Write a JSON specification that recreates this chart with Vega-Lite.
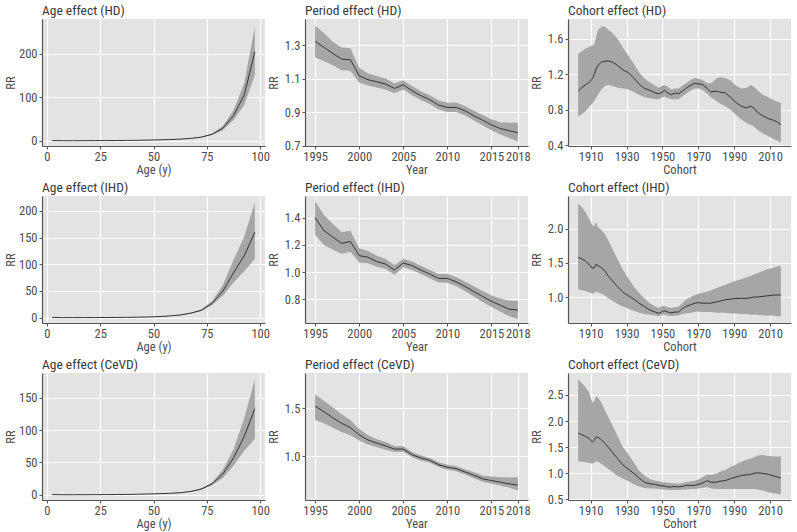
{
"$schema": "https://vega.github.io/schema/vega-lite/v6.json",
"padding": {"left": 4, "top": 3, "right": 4, "bottom": 2},
"background": "white",
"columns": 3,
"spacing": {"row": 50, "column": 40},
"bounds": "flush",
"data": {"values": [
{"p":"aHD","x":2.5,"rr":0.4,"lo":0.3,"hi":0.5},
{"p":"aHD","x":7.5,"rr":0.1,"lo":0.05,"hi":0.15},
{"p":"aHD","x":12.5,"rr":0.1,"lo":0.05,"hi":0.15},
{"p":"aHD","x":17.5,"rr":0.2,"lo":0.15,"hi":0.25},
{"p":"aHD","x":22.5,"rr":0.3,"lo":0.25,"hi":0.35},
{"p":"aHD","x":27.5,"rr":0.4,"lo":0.35,"hi":0.45},
{"p":"aHD","x":32.5,"rr":0.6,"lo":0.55,"hi":0.65},
{"p":"aHD","x":37.5,"rr":0.8,"lo":0.75,"hi":0.85},
{"p":"aHD","x":42.5,"rr":1.1,"lo":1.0,"hi":1.2},
{"p":"aHD","x":47.5,"rr":1.6,"lo":1.5,"hi":1.7},
{"p":"aHD","x":52.5,"rr":2.1,"lo":2.0,"hi":2.3},
{"p":"aHD","x":57.5,"rr":2.8,"lo":2.6,"hi":3.0},
{"p":"aHD","x":62.5,"rr":3.8,"lo":3.5,"hi":4.1},
{"p":"aHD","x":67.5,"rr":5.5,"lo":5.0,"hi":6.0},
{"p":"aHD","x":72.5,"rr":8.5,"lo":7.7,"hi":9.4},
{"p":"aHD","x":77.5,"rr":15,"lo":13.2,"hi":17},
{"p":"aHD","x":82.5,"rr":29,"lo":24.5,"hi":34},
{"p":"aHD","x":87.5,"rr":58,"lo":48,"hi":70},
{"p":"aHD","x":92.5,"rr":105,"lo":82,"hi":132},
{"p":"aHD","x":97.5,"rr":205,"lo":152,"hi":262},
{"p":"aIHD","x":2.5,"rr":0.2,"lo":0.1,"hi":0.3},
{"p":"aIHD","x":7.5,"rr":0.05,"lo":0.03,"hi":0.08},
{"p":"aIHD","x":12.5,"rr":0.05,"lo":0.03,"hi":0.08},
{"p":"aIHD","x":17.5,"rr":0.1,"lo":0.08,"hi":0.12},
{"p":"aIHD","x":22.5,"rr":0.15,"lo":0.12,"hi":0.18},
{"p":"aIHD","x":27.5,"rr":0.25,"lo":0.22,"hi":0.28},
{"p":"aIHD","x":32.5,"rr":0.4,"lo":0.36,"hi":0.44},
{"p":"aIHD","x":37.5,"rr":0.6,"lo":0.55,"hi":0.65},
{"p":"aIHD","x":42.5,"rr":0.9,"lo":0.85,"hi":0.95},
{"p":"aIHD","x":47.5,"rr":1.3,"lo":1.2,"hi":1.4},
{"p":"aIHD","x":52.5,"rr":2.0,"lo":1.8,"hi":2.2},
{"p":"aIHD","x":57.5,"rr":3.2,"lo":3.0,"hi":3.5},
{"p":"aIHD","x":62.5,"rr":5,"lo":4.6,"hi":5.5},
{"p":"aIHD","x":67.5,"rr":8.5,"lo":7.8,"hi":9.3},
{"p":"aIHD","x":72.5,"rr":14,"lo":12.5,"hi":15.7},
{"p":"aIHD","x":77.5,"rr":27,"lo":23.5,"hi":31},
{"p":"aIHD","x":82.5,"rr":50,"lo":41,"hi":61},
{"p":"aIHD","x":87.5,"rr":84,"lo":66,"hi":108},
{"p":"aIHD","x":92.5,"rr":116,"lo":87,"hi":152},
{"p":"aIHD","x":97.5,"rr":160,"lo":110,"hi":216},
{"p":"aCeVD","x":2.5,"rr":0.3,"lo":0.2,"hi":0.4},
{"p":"aCeVD","x":7.5,"rr":0.1,"lo":0.05,"hi":0.15},
{"p":"aCeVD","x":12.5,"rr":0.1,"lo":0.05,"hi":0.15},
{"p":"aCeVD","x":17.5,"rr":0.15,"lo":0.1,"hi":0.2},
{"p":"aCeVD","x":22.5,"rr":0.2,"lo":0.15,"hi":0.25},
{"p":"aCeVD","x":27.5,"rr":0.3,"lo":0.25,"hi":0.35},
{"p":"aCeVD","x":32.5,"rr":0.4,"lo":0.35,"hi":0.45},
{"p":"aCeVD","x":37.5,"rr":0.6,"lo":0.55,"hi":0.65},
{"p":"aCeVD","x":42.5,"rr":0.9,"lo":0.8,"hi":1.0},
{"p":"aCeVD","x":47.5,"rr":1.3,"lo":1.2,"hi":1.4},
{"p":"aCeVD","x":52.5,"rr":1.7,"lo":1.6,"hi":1.9},
{"p":"aCeVD","x":57.5,"rr":2.3,"lo":2.1,"hi":2.5},
{"p":"aCeVD","x":62.5,"rr":3.2,"lo":2.9,"hi":3.5},
{"p":"aCeVD","x":67.5,"rr":5.2,"lo":4.7,"hi":5.7},
{"p":"aCeVD","x":72.5,"rr":9,"lo":8,"hi":10},
{"p":"aCeVD","x":77.5,"rr":17,"lo":15,"hi":19.5},
{"p":"aCeVD","x":82.5,"rr":32,"lo":26,"hi":39},
{"p":"aCeVD","x":87.5,"rr":57,"lo":45,"hi":70},
{"p":"aCeVD","x":92.5,"rr":90,"lo":68,"hi":118},
{"p":"aCeVD","x":97.5,"rr":133,"lo":86,"hi":178},
{"p":"pHD","x":1995,"rr":1.322,"lo":1.226,"hi":1.415},
{"p":"pHD","x":1996,"rr":1.286,"lo":1.205,"hi":1.37},
{"p":"pHD","x":1997,"rr":1.25,"lo":1.18,"hi":1.32},
{"p":"pHD","x":1998,"rr":1.216,"lo":1.15,"hi":1.285},
{"p":"pHD","x":1999,"rr":1.212,"lo":1.147,"hi":1.28},
{"p":"pHD","x":2000,"rr":1.117,"lo":1.075,"hi":1.165},
{"p":"pHD","x":2001,"rr":1.093,"lo":1.058,"hi":1.13},
{"p":"pHD","x":2002,"rr":1.081,"lo":1.047,"hi":1.115},
{"p":"pHD","x":2003,"rr":1.067,"lo":1.035,"hi":1.1},
{"p":"pHD","x":2004,"rr":1.041,"lo":1.012,"hi":1.07},
{"p":"pHD","x":2005,"rr":1.063,"lo":1.035,"hi":1.09},
{"p":"pHD","x":2006,"rr":1.027,"lo":1.0,"hi":1.055},
{"p":"pHD","x":2007,"rr":0.998,"lo":0.972,"hi":1.025},
{"p":"pHD","x":2008,"rr":0.974,"lo":0.948,"hi":1.0},
{"p":"pHD","x":2009,"rr":0.942,"lo":0.915,"hi":0.97},
{"p":"pHD","x":2010,"rr":0.928,"lo":0.9,"hi":0.956},
{"p":"pHD","x":2011,"rr":0.928,"lo":0.9,"hi":0.957},
{"p":"pHD","x":2012,"rr":0.908,"lo":0.88,"hi":0.937},
{"p":"pHD","x":2013,"rr":0.878,"lo":0.85,"hi":0.908},
{"p":"pHD","x":2014,"rr":0.852,"lo":0.822,"hi":0.883},
{"p":"pHD","x":2015,"rr":0.824,"lo":0.792,"hi":0.858},
{"p":"pHD","x":2016,"rr":0.802,"lo":0.766,"hi":0.84},
{"p":"pHD","x":2017,"rr":0.789,"lo":0.745,"hi":0.836},
{"p":"pHD","x":2018,"rr":0.777,"lo":0.725,"hi":0.838},
{"p":"pIHD","x":1995,"rr":1.4,"lo":1.274,"hi":1.521},
{"p":"pIHD","x":1996,"rr":1.306,"lo":1.2,"hi":1.42},
{"p":"pIHD","x":1997,"rr":1.257,"lo":1.165,"hi":1.355},
{"p":"pIHD","x":1998,"rr":1.212,"lo":1.135,"hi":1.295},
{"p":"pIHD","x":1999,"rr":1.225,"lo":1.15,"hi":1.305},
{"p":"pIHD","x":2000,"rr":1.121,"lo":1.07,"hi":1.175},
{"p":"pIHD","x":2001,"rr":1.109,"lo":1.065,"hi":1.155},
{"p":"pIHD","x":2002,"rr":1.077,"lo":1.04,"hi":1.12},
{"p":"pIHD","x":2003,"rr":1.059,"lo":1.022,"hi":1.097},
{"p":"pIHD","x":2004,"rr":1.015,"lo":0.98,"hi":1.05},
{"p":"pIHD","x":2005,"rr":1.067,"lo":1.035,"hi":1.096},
{"p":"pIHD","x":2006,"rr":1.047,"lo":1.015,"hi":1.078},
{"p":"pIHD","x":2007,"rr":1.015,"lo":0.985,"hi":1.046},
{"p":"pIHD","x":2008,"rr":0.985,"lo":0.955,"hi":1.016},
{"p":"pIHD","x":2009,"rr":0.953,"lo":0.923,"hi":0.985},
{"p":"pIHD","x":2010,"rr":0.953,"lo":0.922,"hi":0.985},
{"p":"pIHD","x":2011,"rr":0.928,"lo":0.895,"hi":0.962},
{"p":"pIHD","x":2012,"rr":0.894,"lo":0.86,"hi":0.93},
{"p":"pIHD","x":2013,"rr":0.857,"lo":0.82,"hi":0.895},
{"p":"pIHD","x":2014,"rr":0.82,"lo":0.78,"hi":0.86},
{"p":"pIHD","x":2015,"rr":0.785,"lo":0.742,"hi":0.828},
{"p":"pIHD","x":2016,"rr":0.756,"lo":0.71,"hi":0.805},
{"p":"pIHD","x":2017,"rr":0.726,"lo":0.675,"hi":0.79},
{"p":"pIHD","x":2018,"rr":0.721,"lo":0.657,"hi":0.788},
{"p":"pCeVD","x":1995,"rr":1.524,"lo":1.379,"hi":1.645},
{"p":"pCeVD","x":1996,"rr":1.466,"lo":1.345,"hi":1.58},
{"p":"pCeVD","x":1997,"rr":1.403,"lo":1.3,"hi":1.51},
{"p":"pCeVD","x":1998,"rr":1.345,"lo":1.255,"hi":1.44},
{"p":"pCeVD","x":1999,"rr":1.3,"lo":1.22,"hi":1.38},
{"p":"pCeVD","x":2000,"rr":1.224,"lo":1.165,"hi":1.285},
{"p":"pCeVD","x":2001,"rr":1.172,"lo":1.125,"hi":1.22},
{"p":"pCeVD","x":2002,"rr":1.138,"lo":1.095,"hi":1.18},
{"p":"pCeVD","x":2003,"rr":1.11,"lo":1.07,"hi":1.15},
{"p":"pCeVD","x":2004,"rr":1.076,"lo":1.045,"hi":1.108},
{"p":"pCeVD","x":2005,"rr":1.076,"lo":1.048,"hi":1.105},
{"p":"pCeVD","x":2006,"rr":1.017,"lo":0.99,"hi":1.045},
{"p":"pCeVD","x":2007,"rr":0.983,"lo":0.957,"hi":1.01},
{"p":"pCeVD","x":2008,"rr":0.959,"lo":0.933,"hi":0.986},
{"p":"pCeVD","x":2009,"rr":0.914,"lo":0.888,"hi":0.94},
{"p":"pCeVD","x":2010,"rr":0.886,"lo":0.86,"hi":0.913},
{"p":"pCeVD","x":2011,"rr":0.872,"lo":0.845,"hi":0.9},
{"p":"pCeVD","x":2012,"rr":0.838,"lo":0.81,"hi":0.867},
{"p":"pCeVD","x":2013,"rr":0.803,"lo":0.773,"hi":0.835},
{"p":"pCeVD","x":2014,"rr":0.766,"lo":0.735,"hi":0.8},
{"p":"pCeVD","x":2015,"rr":0.748,"lo":0.715,"hi":0.79},
{"p":"pCeVD","x":2016,"rr":0.731,"lo":0.695,"hi":0.783},
{"p":"pCeVD","x":2017,"rr":0.714,"lo":0.675,"hi":0.78},
{"p":"pCeVD","x":2018,"rr":0.7,"lo":0.645,"hi":0.783},
{"p":"cHD","x":1903,"rr":1.01,"lo":0.72,"hi":1.43},
{"p":"cHD","x":1905,"rr":1.05,"lo":0.75,"hi":1.46},
{"p":"cHD","x":1907,"rr":1.08,"lo":0.78,"hi":1.49},
{"p":"cHD","x":1909,"rr":1.11,"lo":0.83,"hi":1.51},
{"p":"cHD","x":1911,"rr":1.15,"lo":0.87,"hi":1.53},
{"p":"cHD","x":1912,"rr":1.2,"lo":0.9,"hi":1.54},
{"p":"cHD","x":1913,"rr":1.26,"lo":0.93,"hi":1.62},
{"p":"cHD","x":1914,"rr":1.3,"lo":0.97,"hi":1.7},
{"p":"cHD","x":1916,"rr":1.34,"lo":1.03,"hi":1.74},
{"p":"cHD","x":1918,"rr":1.35,"lo":1.07,"hi":1.74},
{"p":"cHD","x":1920,"rr":1.35,"lo":1.08,"hi":1.7},
{"p":"cHD","x":1922,"rr":1.34,"lo":1.07,"hi":1.67},
{"p":"cHD","x":1925,"rr":1.3,"lo":1.05,"hi":1.6},
{"p":"cHD","x":1928,"rr":1.25,"lo":1.04,"hi":1.5},
{"p":"cHD","x":1931,"rr":1.22,"lo":1.03,"hi":1.41},
{"p":"cHD","x":1934,"rr":1.16,"lo":1.0,"hi":1.32},
{"p":"cHD","x":1937,"rr":1.09,"lo":0.97,"hi":1.22},
{"p":"cHD","x":1940,"rr":1.04,"lo":0.94,"hi":1.15},
{"p":"cHD","x":1943,"rr":1.02,"lo":0.93,"hi":1.11},
{"p":"cHD","x":1946,"rr":0.99,"lo":0.92,"hi":1.07},
{"p":"cHD","x":1948,"rr":0.98,"lo":0.92,"hi":1.05},
{"p":"cHD","x":1950,"rr":1.0,"lo":0.94,"hi":1.07},
{"p":"cHD","x":1951,"rr":1.02,"lo":0.95,"hi":1.08},
{"p":"cHD","x":1953,"rr":0.99,"lo":0.93,"hi":1.06},
{"p":"cHD","x":1955,"rr":0.97,"lo":0.92,"hi":1.03},
{"p":"cHD","x":1957,"rr":0.99,"lo":0.92,"hi":1.04},
{"p":"cHD","x":1959,"rr":0.98,"lo":0.92,"hi":1.04},
{"p":"cHD","x":1961,"rr":1.01,"lo":0.95,"hi":1.07},
{"p":"cHD","x":1963,"rr":1.04,"lo":0.98,"hi":1.1},
{"p":"cHD","x":1966,"rr":1.08,"lo":1.02,"hi":1.14},
{"p":"cHD","x":1968,"rr":1.1,"lo":1.04,"hi":1.16},
{"p":"cHD","x":1970,"rr":1.09,"lo":1.04,"hi":1.15},
{"p":"cHD","x":1972,"rr":1.09,"lo":1.03,"hi":1.14},
{"p":"cHD","x":1975,"rr":1.04,"lo":0.98,"hi":1.1},
{"p":"cHD","x":1977,"rr":1.0,"lo":0.94,"hi":1.1},
{"p":"cHD","x":1980,"rr":1.01,"lo":0.9,"hi":1.15},
{"p":"cHD","x":1982,"rr":1.0,"lo":0.87,"hi":1.17},
{"p":"cHD","x":1985,"rr":0.99,"lo":0.84,"hi":1.16},
{"p":"cHD","x":1988,"rr":0.94,"lo":0.8,"hi":1.13},
{"p":"cHD","x":1991,"rr":0.88,"lo":0.74,"hi":1.07},
{"p":"cHD","x":1994,"rr":0.84,"lo":0.69,"hi":1.04},
{"p":"cHD","x":1997,"rr":0.82,"lo":0.65,"hi":1.05},
{"p":"cHD","x":1999,"rr":0.84,"lo":0.63,"hi":1.08},
{"p":"cHD","x":2001,"rr":0.82,"lo":0.61,"hi":1.06},
{"p":"cHD","x":2003,"rr":0.77,"lo":0.57,"hi":1.02},
{"p":"cHD","x":2006,"rr":0.73,"lo":0.53,"hi":0.97},
{"p":"cHD","x":2009,"rr":0.7,"lo":0.5,"hi":0.94},
{"p":"cHD","x":2012,"rr":0.68,"lo":0.47,"hi":0.91},
{"p":"cHD","x":2014,"rr":0.66,"lo":0.45,"hi":0.89},
{"p":"cHD","x":2016,"rr":0.63,"lo":0.43,"hi":0.88},
{"p":"cIHD","x":1903,"rr":1.58,"lo":1.11,"hi":2.37},
{"p":"cIHD","x":1905,"rr":1.56,"lo":1.1,"hi":2.32},
{"p":"cIHD","x":1907,"rr":1.53,"lo":1.09,"hi":2.25},
{"p":"cIHD","x":1909,"rr":1.48,"lo":1.07,"hi":2.15},
{"p":"cIHD","x":1911,"rr":1.42,"lo":1.05,"hi":2.05},
{"p":"cIHD","x":1912,"rr":1.43,"lo":1.06,"hi":2.04},
{"p":"cIHD","x":1913,"rr":1.48,"lo":1.08,"hi":2.1},
{"p":"cIHD","x":1914,"rr":1.46,"lo":1.07,"hi":2.03},
{"p":"cIHD","x":1916,"rr":1.43,"lo":1.05,"hi":1.98},
{"p":"cIHD","x":1918,"rr":1.38,"lo":1.02,"hi":1.92},
{"p":"cIHD","x":1920,"rr":1.3,"lo":0.98,"hi":1.82},
{"p":"cIHD","x":1922,"rr":1.24,"lo":0.95,"hi":1.71},
{"p":"cIHD","x":1925,"rr":1.15,"lo":0.9,"hi":1.55},
{"p":"cIHD","x":1928,"rr":1.07,"lo":0.86,"hi":1.4},
{"p":"cIHD","x":1931,"rr":1.02,"lo":0.83,"hi":1.27},
{"p":"cIHD","x":1934,"rr":0.97,"lo":0.8,"hi":1.16},
{"p":"cIHD","x":1937,"rr":0.91,"lo":0.77,"hi":1.06},
{"p":"cIHD","x":1940,"rr":0.86,"lo":0.75,"hi":0.98},
{"p":"cIHD","x":1943,"rr":0.81,"lo":0.74,"hi":0.91},
{"p":"cIHD","x":1946,"rr":0.78,"lo":0.73,"hi":0.86},
{"p":"cIHD","x":1948,"rr":0.76,"lo":0.72,"hi":0.84},
{"p":"cIHD","x":1950,"rr":0.79,"lo":0.74,"hi":0.87},
{"p":"cIHD","x":1951,"rr":0.8,"lo":0.74,"hi":0.87},
{"p":"cIHD","x":1953,"rr":0.78,"lo":0.73,"hi":0.85},
{"p":"cIHD","x":1955,"rr":0.77,"lo":0.72,"hi":0.84},
{"p":"cIHD","x":1957,"rr":0.78,"lo":0.73,"hi":0.85},
{"p":"cIHD","x":1959,"rr":0.78,"lo":0.73,"hi":0.86},
{"p":"cIHD","x":1961,"rr":0.83,"lo":0.75,"hi":0.91},
{"p":"cIHD","x":1963,"rr":0.86,"lo":0.76,"hi":0.96},
{"p":"cIHD","x":1966,"rr":0.89,"lo":0.77,"hi":1.0},
{"p":"cIHD","x":1968,"rr":0.91,"lo":0.78,"hi":1.03},
{"p":"cIHD","x":1970,"rr":0.92,"lo":0.79,"hi":1.05},
{"p":"cIHD","x":1972,"rr":0.91,"lo":0.78,"hi":1.06},
{"p":"cIHD","x":1975,"rr":0.91,"lo":0.78,"hi":1.08},
{"p":"cIHD","x":1977,"rr":0.91,"lo":0.78,"hi":1.1},
{"p":"cIHD","x":1980,"rr":0.93,"lo":0.77,"hi":1.13},
{"p":"cIHD","x":1982,"rr":0.94,"lo":0.77,"hi":1.15},
{"p":"cIHD","x":1985,"rr":0.96,"lo":0.77,"hi":1.18},
{"p":"cIHD","x":1988,"rr":0.97,"lo":0.76,"hi":1.21},
{"p":"cIHD","x":1991,"rr":0.98,"lo":0.76,"hi":1.24},
{"p":"cIHD","x":1994,"rr":0.98,"lo":0.75,"hi":1.26},
{"p":"cIHD","x":1997,"rr":0.98,"lo":0.75,"hi":1.29},
{"p":"cIHD","x":1999,"rr":0.99,"lo":0.74,"hi":1.31},
{"p":"cIHD","x":2001,"rr":1.0,"lo":0.74,"hi":1.33},
{"p":"cIHD","x":2003,"rr":1.0,"lo":0.74,"hi":1.35},
{"p":"cIHD","x":2006,"rr":1.01,"lo":0.73,"hi":1.38},
{"p":"cIHD","x":2009,"rr":1.02,"lo":0.73,"hi":1.41},
{"p":"cIHD","x":2012,"rr":1.03,"lo":0.73,"hi":1.43},
{"p":"cIHD","x":2014,"rr":1.03,"lo":0.72,"hi":1.45},
{"p":"cIHD","x":2016,"rr":1.03,"lo":0.72,"hi":1.46},
{"p":"cCeVD","x":1903,"rr":1.77,"lo":1.23,"hi":2.8},
{"p":"cCeVD","x":1905,"rr":1.74,"lo":1.22,"hi":2.73},
{"p":"cCeVD","x":1907,"rr":1.71,"lo":1.21,"hi":2.65},
{"p":"cCeVD","x":1909,"rr":1.67,"lo":1.2,"hi":2.55},
{"p":"cCeVD","x":1911,"rr":1.6,"lo":1.19,"hi":2.35},
{"p":"cCeVD","x":1912,"rr":1.63,"lo":1.2,"hi":2.38},
{"p":"cCeVD","x":1913,"rr":1.7,"lo":1.23,"hi":2.48},
{"p":"cCeVD","x":1914,"rr":1.69,"lo":1.22,"hi":2.45},
{"p":"cCeVD","x":1916,"rr":1.64,"lo":1.18,"hi":2.35},
{"p":"cCeVD","x":1918,"rr":1.57,"lo":1.13,"hi":2.2},
{"p":"cCeVD","x":1920,"rr":1.49,"lo":1.08,"hi":2.07},
{"p":"cCeVD","x":1922,"rr":1.41,"lo":1.03,"hi":1.93},
{"p":"cCeVD","x":1925,"rr":1.28,"lo":0.95,"hi":1.71},
{"p":"cCeVD","x":1928,"rr":1.16,"lo":0.9,"hi":1.5},
{"p":"cCeVD","x":1931,"rr":1.08,"lo":0.85,"hi":1.36},
{"p":"cCeVD","x":1934,"rr":1.0,"lo":0.79,"hi":1.21},
{"p":"cCeVD","x":1937,"rr":0.91,"lo":0.75,"hi":1.05},
{"p":"cCeVD","x":1940,"rr":0.83,"lo":0.72,"hi":0.96},
{"p":"cCeVD","x":1943,"rr":0.8,"lo":0.71,"hi":0.89},
{"p":"cCeVD","x":1946,"rr":0.79,"lo":0.71,"hi":0.86},
{"p":"cCeVD","x":1948,"rr":0.77,"lo":0.7,"hi":0.85},
{"p":"cCeVD","x":1950,"rr":0.76,"lo":0.69,"hi":0.83},
{"p":"cCeVD","x":1951,"rr":0.76,"lo":0.69,"hi":0.83},
{"p":"cCeVD","x":1953,"rr":0.74,"lo":0.68,"hi":0.82},
{"p":"cCeVD","x":1955,"rr":0.74,"lo":0.68,"hi":0.81},
{"p":"cCeVD","x":1957,"rr":0.75,"lo":0.68,"hi":0.81},
{"p":"cCeVD","x":1959,"rr":0.74,"lo":0.68,"hi":0.8},
{"p":"cCeVD","x":1961,"rr":0.75,"lo":0.69,"hi":0.81},
{"p":"cCeVD","x":1963,"rr":0.77,"lo":0.69,"hi":0.83},
{"p":"cCeVD","x":1966,"rr":0.77,"lo":0.7,"hi":0.85},
{"p":"cCeVD","x":1968,"rr":0.77,"lo":0.7,"hi":0.86},
{"p":"cCeVD","x":1970,"rr":0.79,"lo":0.71,"hi":0.88},
{"p":"cCeVD","x":1972,"rr":0.81,"lo":0.72,"hi":0.92},
{"p":"cCeVD","x":1975,"rr":0.86,"lo":0.74,"hi":0.98},
{"p":"cCeVD","x":1977,"rr":0.83,"lo":0.71,"hi":0.97},
{"p":"cCeVD","x":1980,"rr":0.83,"lo":0.7,"hi":0.99},
{"p":"cCeVD","x":1982,"rr":0.85,"lo":0.7,"hi":1.03},
{"p":"cCeVD","x":1985,"rr":0.86,"lo":0.7,"hi":1.07},
{"p":"cCeVD","x":1988,"rr":0.9,"lo":0.7,"hi":1.12},
{"p":"cCeVD","x":1991,"rr":0.93,"lo":0.7,"hi":1.17},
{"p":"cCeVD","x":1994,"rr":0.96,"lo":0.7,"hi":1.22},
{"p":"cCeVD","x":1997,"rr":0.97,"lo":0.7,"hi":1.26},
{"p":"cCeVD","x":1999,"rr":0.98,"lo":0.7,"hi":1.28},
{"p":"cCeVD","x":2001,"rr":1.0,"lo":0.7,"hi":1.31},
{"p":"cCeVD","x":2003,"rr":1.01,"lo":0.69,"hi":1.34},
{"p":"cCeVD","x":2006,"rr":1.0,"lo":0.67,"hi":1.35},
{"p":"cCeVD","x":2009,"rr":0.98,"lo":0.64,"hi":1.33},
{"p":"cCeVD","x":2012,"rr":0.95,"lo":0.62,"hi":1.32},
{"p":"cCeVD","x":2014,"rr":0.93,"lo":0.61,"hi":1.32},
{"p":"cCeVD","x":2016,"rr":0.91,"lo":0.6,"hi":1.32}
]},
"concat": [
{"title": {"text": "Age effect (HD)", "fontWeight": "normal"}, "width": 223, "height": 127,
 "transform": [{"filter": "datum.p === 'aHD'"}],
 "resolve": {"axis": {"x": "independent", "y": "independent"}},
 "layer": [
  {"mark": {"type": "area", "color": "#a6a6a6"},
   "encoding": {
    "x": {"field": "x", "type": "quantitative", "title": "Age (y)", "scale": {"domain": [-2.25, 102.25], "nice": false, "zero": false}, "axis": {"values": [0,25,50,75,100], "format": "d"}},
    "y": {"field": "lo", "type": "quantitative", "title": "RR", "scale": {"domain": [-12, 280], "nice": false, "zero": false}, "axis": {"values": [0,100,200], "format": "d"}},
    "y2": {"field": "hi"}}},
  {"mark": {"type": "line", "color": "#333333", "strokeWidth": 1},
   "encoding": {
    "x": {"field": "x", "type": "quantitative", "axis": {"orient": "bottom", "values": [12.5,37.5,62.5,87.5], "labels": false, "ticks": false, "domain": false, "title": null, "gridWidth": 0.5, "minExtent": 0, "maxExtent": 0}},
    "y": {"field": "rr", "type": "quantitative", "axis": {"orient": "left", "values": [50,150,250], "labels": false, "ticks": false, "domain": false, "title": null, "gridWidth": 0.5, "minExtent": 0, "maxExtent": 0}}}}
 ]},
{"title": {"text": "Period effect (HD)", "fontWeight": "normal"}, "width": 223, "height": 127,
 "transform": [{"filter": "datum.p === 'pHD'"}],
 "resolve": {"axis": {"x": "independent", "y": "independent"}},
 "layer": [
  {"mark": {"type": "area", "color": "#a6a6a6"},
   "encoding": {
    "x": {"field": "x", "type": "quantitative", "title": "Year", "scale": {"domain": [1993.85, 2019.15], "nice": false, "zero": false}, "axis": {"values": [1995,2000,2005,2010,2015,2018], "format": "d"}},
    "y": {"field": "lo", "type": "quantitative", "title": "RR", "scale": {"domain": [0.698, 1.455], "nice": false, "zero": false}, "axis": {"values": [0.7,0.9,1.1,1.3], "format": ".1f"}},
    "y2": {"field": "hi"}}},
  {"mark": {"type": "line", "color": "#333333", "strokeWidth": 1},
   "encoding": {
    "x": {"field": "x", "type": "quantitative", "axis": {"orient": "bottom", "values": [1997.5,2002.5,2007.5,2012.5,2016.5], "labels": false, "ticks": false, "domain": false, "title": null, "gridWidth": 0.5, "minExtent": 0, "maxExtent": 0}},
    "y": {"field": "rr", "type": "quantitative", "axis": {"orient": "left", "values": [0.8,1.0,1.2,1.4], "labels": false, "ticks": false, "domain": false, "title": null, "gridWidth": 0.5, "minExtent": 0, "maxExtent": 0}}}}
 ]},
{"title": {"text": "Cohort effect (HD)", "fontWeight": "normal"}, "width": 223, "height": 127,
 "transform": [{"filter": "datum.p === 'cHD'"}],
 "resolve": {"axis": {"x": "independent", "y": "independent"}},
 "layer": [
  {"mark": {"type": "area", "color": "#a6a6a6"},
   "encoding": {
    "x": {"field": "x", "type": "quantitative", "title": "Cohort", "scale": {"domain": [1897.35, 2021.65], "nice": false, "zero": false}, "axis": {"values": [1910,1930,1950,1970,1990,2010], "format": "d"}},
    "y": {"field": "lo", "type": "quantitative", "title": "RR", "scale": {"domain": [0.39, 1.826], "nice": false, "zero": false}, "axis": {"values": [0.4,0.8,1.2,1.6], "format": ".1f"}},
    "y2": {"field": "hi"}}},
  {"mark": {"type": "line", "color": "#333333", "strokeWidth": 1},
   "encoding": {
    "x": {"field": "x", "type": "quantitative", "axis": {"orient": "bottom", "values": [1900,1920,1940,1960,1980,2000,2020], "labels": false, "ticks": false, "domain": false, "title": null, "gridWidth": 0.5, "minExtent": 0, "maxExtent": 0}},
    "y": {"field": "rr", "type": "quantitative", "axis": {"orient": "left", "values": [0.6,1.0,1.4,1.8], "labels": false, "ticks": false, "domain": false, "title": null, "gridWidth": 0.5, "minExtent": 0, "maxExtent": 0}}}}
 ]},
{"title": {"text": "Age effect (IHD)", "fontWeight": "normal"}, "width": 223, "height": 127,
 "transform": [{"filter": "datum.p === 'aIHD'"}],
 "resolve": {"axis": {"x": "independent", "y": "independent"}},
 "layer": [
  {"mark": {"type": "area", "color": "#a6a6a6"},
   "encoding": {
    "x": {"field": "x", "type": "quantitative", "title": "Age (y)", "scale": {"domain": [-2.25, 102.25], "nice": false, "zero": false}, "axis": {"values": [0,25,50,75,100], "format": "d"}},
    "y": {"field": "lo", "type": "quantitative", "title": "RR", "scale": {"domain": [-10, 228], "nice": false, "zero": false}, "axis": {"values": [0,50,100,150,200], "format": "d"}},
    "y2": {"field": "hi"}}},
  {"mark": {"type": "line", "color": "#333333", "strokeWidth": 1},
   "encoding": {
    "x": {"field": "x", "type": "quantitative", "axis": {"orient": "bottom", "values": [12.5,37.5,62.5,87.5], "labels": false, "ticks": false, "domain": false, "title": null, "gridWidth": 0.5, "minExtent": 0, "maxExtent": 0}},
    "y": {"field": "rr", "type": "quantitative", "axis": {"orient": "left", "values": [25,75,125,175,225], "labels": false, "ticks": false, "domain": false, "title": null, "gridWidth": 0.5, "minExtent": 0, "maxExtent": 0}}}}
 ]},
{"title": {"text": "Period effect (IHD)", "fontWeight": "normal"}, "width": 223, "height": 127,
 "transform": [{"filter": "datum.p === 'pIHD'"}],
 "resolve": {"axis": {"x": "independent", "y": "independent"}},
 "layer": [
  {"mark": {"type": "area", "color": "#a6a6a6"},
   "encoding": {
    "x": {"field": "x", "type": "quantitative", "title": "Year", "scale": {"domain": [1993.85, 2019.15], "nice": false, "zero": false}, "axis": {"values": [1995,2000,2005,2010,2015,2018], "format": "d"}},
    "y": {"field": "lo", "type": "quantitative", "title": "RR", "scale": {"domain": [0.625, 1.56], "nice": false, "zero": false}, "axis": {"values": [0.8,1.0,1.2,1.4], "format": ".1f"}},
    "y2": {"field": "hi"}}},
  {"mark": {"type": "line", "color": "#333333", "strokeWidth": 1},
   "encoding": {
    "x": {"field": "x", "type": "quantitative", "axis": {"orient": "bottom", "values": [1997.5,2002.5,2007.5,2012.5,2016.5], "labels": false, "ticks": false, "domain": false, "title": null, "gridWidth": 0.5, "minExtent": 0, "maxExtent": 0}},
    "y": {"field": "rr", "type": "quantitative", "axis": {"orient": "left", "values": [0.7,0.9,1.1,1.3,1.5], "labels": false, "ticks": false, "domain": false, "title": null, "gridWidth": 0.5, "minExtent": 0, "maxExtent": 0}}}}
 ]},
{"title": {"text": "Cohort effect (IHD)", "fontWeight": "normal"}, "width": 223, "height": 127,
 "transform": [{"filter": "datum.p === 'cIHD'"}],
 "resolve": {"axis": {"x": "independent", "y": "independent"}},
 "layer": [
  {"mark": {"type": "area", "color": "#a6a6a6"},
   "encoding": {
    "x": {"field": "x", "type": "quantitative", "title": "Cohort", "scale": {"domain": [1897.35, 2021.65], "nice": false, "zero": false}, "axis": {"values": [1910,1930,1950,1970,1990,2010], "format": "d"}},
    "y": {"field": "lo", "type": "quantitative", "title": "RR", "scale": {"domain": [0.62, 2.48], "nice": false, "zero": false}, "axis": {"values": [1.0,1.5,2.0], "format": ".1f"}},
    "y2": {"field": "hi"}}},
  {"mark": {"type": "line", "color": "#333333", "strokeWidth": 1},
   "encoding": {
    "x": {"field": "x", "type": "quantitative", "axis": {"orient": "bottom", "values": [1900,1920,1940,1960,1980,2000,2020], "labels": false, "ticks": false, "domain": false, "title": null, "gridWidth": 0.5, "minExtent": 0, "maxExtent": 0}},
    "y": {"field": "rr", "type": "quantitative", "axis": {"orient": "left", "values": [0.75,1.25,1.75,2.25], "labels": false, "ticks": false, "domain": false, "title": null, "gridWidth": 0.5, "minExtent": 0, "maxExtent": 0}}}}
 ]},
{"title": {"text": "Age effect (CeVD)", "fontWeight": "normal"}, "width": 223, "height": 127,
 "transform": [{"filter": "datum.p === 'aCeVD'"}],
 "resolve": {"axis": {"x": "independent", "y": "independent"}},
 "layer": [
  {"mark": {"type": "area", "color": "#a6a6a6"},
   "encoding": {
    "x": {"field": "x", "type": "quantitative", "title": "Age (y)", "scale": {"domain": [-2.25, 102.25], "nice": false, "zero": false}, "axis": {"values": [0,25,50,75,100], "format": "d"}},
    "y": {"field": "lo", "type": "quantitative", "title": "RR", "scale": {"domain": [-8, 188], "nice": false, "zero": false}, "axis": {"values": [0,50,100,150], "format": "d"}},
    "y2": {"field": "hi"}}},
  {"mark": {"type": "line", "color": "#333333", "strokeWidth": 1},
   "encoding": {
    "x": {"field": "x", "type": "quantitative", "axis": {"orient": "bottom", "values": [12.5,37.5,62.5,87.5], "labels": false, "ticks": false, "domain": false, "title": null, "gridWidth": 0.5, "minExtent": 0, "maxExtent": 0}},
    "y": {"field": "rr", "type": "quantitative", "axis": {"orient": "left", "values": [25,75,125,175], "labels": false, "ticks": false, "domain": false, "title": null, "gridWidth": 0.5, "minExtent": 0, "maxExtent": 0}}}}
 ]},
{"title": {"text": "Period effect (CeVD)", "fontWeight": "normal"}, "width": 223, "height": 127,
 "transform": [{"filter": "datum.p === 'pCeVD'"}],
 "resolve": {"axis": {"x": "independent", "y": "independent"}},
 "layer": [
  {"mark": {"type": "area", "color": "#a6a6a6"},
   "encoding": {
    "x": {"field": "x", "type": "quantitative", "title": "Year", "scale": {"domain": [1993.85, 2019.15], "nice": false, "zero": false}, "axis": {"values": [1995,2000,2005,2010,2015,2018], "format": "d"}},
    "y": {"field": "lo", "type": "quantitative", "title": "RR", "scale": {"domain": [0.545, 1.87], "nice": false, "zero": false}, "axis": {"values": [1.0,1.5], "format": ".1f"}},
    "y2": {"field": "hi"}}},
  {"mark": {"type": "line", "color": "#333333", "strokeWidth": 1},
   "encoding": {
    "x": {"field": "x", "type": "quantitative", "axis": {"orient": "bottom", "values": [1997.5,2002.5,2007.5,2012.5,2016.5], "labels": false, "ticks": false, "domain": false, "title": null, "gridWidth": 0.5, "minExtent": 0, "maxExtent": 0}},
    "y": {"field": "rr", "type": "quantitative", "axis": {"orient": "left", "values": [0.75,1.25,1.75], "labels": false, "ticks": false, "domain": false, "title": null, "gridWidth": 0.5, "minExtent": 0, "maxExtent": 0}}}}
 ]},
{"title": {"text": "Cohort effect (CeVD)", "fontWeight": "normal"}, "width": 223, "height": 127,
 "transform": [{"filter": "datum.p === 'cCeVD'"}],
 "resolve": {"axis": {"x": "independent", "y": "independent"}},
 "layer": [
  {"mark": {"type": "area", "color": "#a6a6a6"},
   "encoding": {
    "x": {"field": "x", "type": "quantitative", "title": "Cohort", "scale": {"domain": [1897.35, 2021.65], "nice": false, "zero": false}, "axis": {"values": [1910,1930,1950,1970,1990,2010], "format": "d"}},
    "y": {"field": "lo", "type": "quantitative", "title": "RR", "scale": {"domain": [0.49, 2.92], "nice": false, "zero": false}, "axis": {"values": [0.5,1.0,1.5,2.0,2.5], "format": ".1f"}},
    "y2": {"field": "hi"}}},
  {"mark": {"type": "line", "color": "#333333", "strokeWidth": 1},
   "encoding": {
    "x": {"field": "x", "type": "quantitative", "axis": {"orient": "bottom", "values": [1900,1920,1940,1960,1980,2000,2020], "labels": false, "ticks": false, "domain": false, "title": null, "gridWidth": 0.5, "minExtent": 0, "maxExtent": 0}},
    "y": {"field": "rr", "type": "quantitative", "axis": {"orient": "left", "values": [0.75,1.25,1.75,2.25,2.75], "labels": false, "ticks": false, "domain": false, "title": null, "gridWidth": 0.5, "minExtent": 0, "maxExtent": 0}}}}
 ]}
],
"config": {
 "font": "Roboto Condensed, DejaVu Sans Condensed, sans-serif",
 "view": {"fill": "#e3e3e3", "stroke": null},
 "axis": {"grid": true, "gridWidth": 1.2, "domainColor": "#555555", "domainWidth": 1.2, "tickColor": "#555555", "tickSize": 3, "labelFont": "Roboto Condensed, DejaVu Sans Condensed, sans-serif", "labelFontSize": 12.5, "labelColor": "#4d4d4d", "labelPadding": 2, "titleFont": "Roboto Condensed, DejaVu Sans Condensed, sans-serif", "titleFontSize": 12.5, "titleFontWeight": "normal", "titleColor": "#4d4d4d", "gridColor": "#ffffff", "labelFlush": false, "labelOverlap": false},
 "axisY": {"minExtent": 22, "maxExtent": 22, "titlePadding": 3},
 "axisX": {"titlePadding": 1, "labelPadding": 1},
 "title": {"font": "Roboto Condensed, DejaVu Sans Condensed, sans-serif", "fontSize": 13.5, "fontWeight": "normal", "color": "#3a3a3a", "anchor": "start", "frame": "group", "offset": 2}
}
}
